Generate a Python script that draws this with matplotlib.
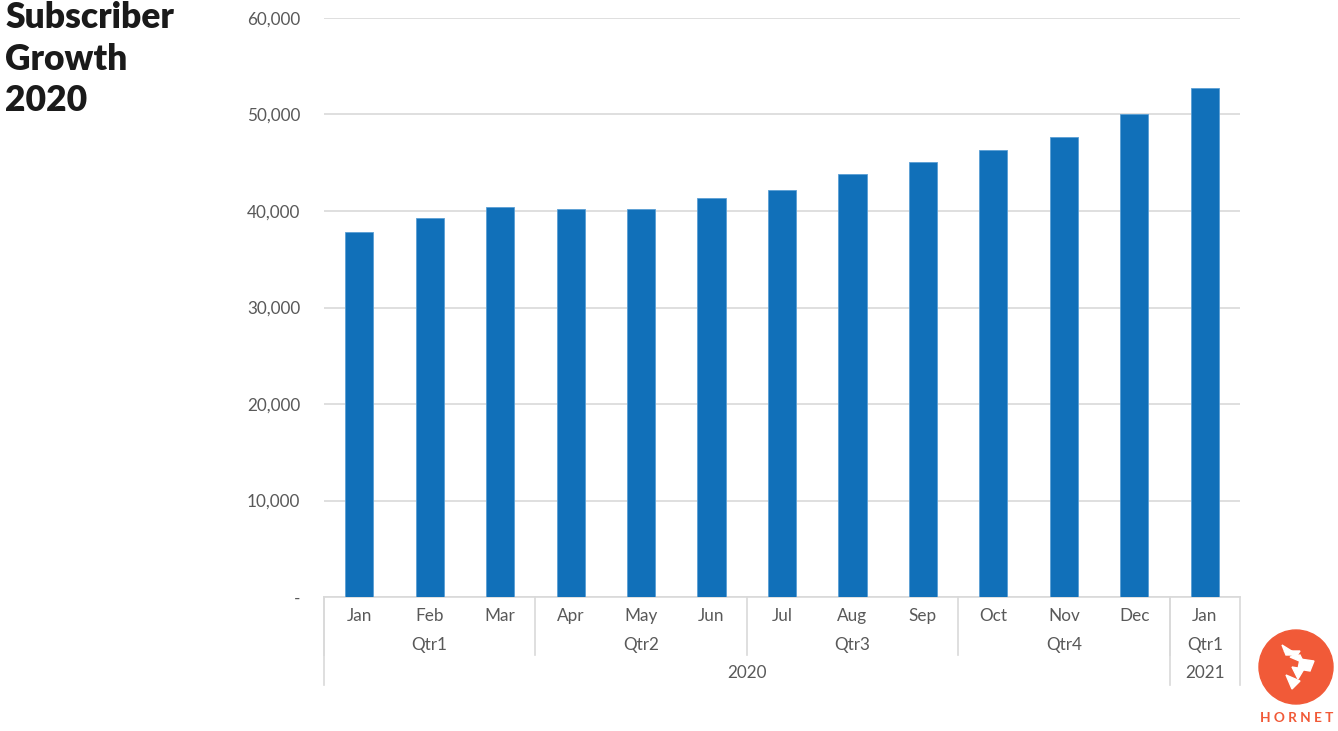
import numpy as np
import matplotlib.pyplot as plt
from matplotlib.patches import Circle, Polygon

# data
months = ['Jan', 'Feb', 'Mar', 'Apr', 'May', 'Jun', 'Jul', 'Aug', 'Sep',
          'Oct', 'Nov', 'Dec', 'Jan']
quarters = ['Qtr1', 'Qtr2', 'Qtr3', 'Qtr4', 'Qtr1']
quarter_sizes = [3, 3, 3, 3, 1]
years = ['2020', '2021']
year_sizes = [12, 1]
subscribers = [37800, 39300, 40400, 40200, 40200, 41300, 42200,
               43800, 45100, 46300, 47700, 50100, 52700]
y_ticks = [0, 10000, 20000, 30000, 40000, 50000, 60000]

W, H = 1338, 731
plt.rcParams['font.family'] = ['Lato', 'DejaVu Sans']
fig = plt.figure(figsize=(W / 100, H / 100), dpi=100)

ax = fig.add_axes([324 / W, (H - 597) / H, 916 / W, 579 / H])
x = np.arange(len(months))
ax.bar(x, subscribers, width=0.4, color='#1170B9', edgecolor='#5A9FD4',
       linewidth=0.6, zorder=3)
ax.set_xlim(-0.5, len(months) - 0.5)
ax.set_ylim(0, 60000)
ax.set_yticks(y_ticks)
ax.set_yticklabels(['-' if v == 0 else f'{v:,}' for v in y_ticks])
ax.tick_params(axis='y', length=0, pad=17, labelsize=12.3, labelcolor='#595959')
ax.tick_params(axis='x', length=0, labelbottom=False)
ax.grid(axis='y', color='#D9D9D9', linewidth=1.2, zorder=0)
for s in ['top', 'right', 'left']:
    ax.spines[s].set_visible(False)
ax.spines['bottom'].set_color('#D9D9D9')
ax.spines['bottom'].set_linewidth(1.2)

# hierarchical category axis
tr = ax.get_xaxis_transform()
def py(p):
    return (597 - p) / 579

lab_kw = dict(transform=tr, ha='center', va='center', fontsize=12.3,
              color='#595959', clip_on=False)
line_kw = dict(transform=tr, color='#D9D9D9', linewidth=1.2, clip_on=False)

for i, m in enumerate(months):
    ax.text(i, py(616), m, **lab_kw)

pos = -0.5
for q, n in zip(quarters, quarter_sizes):
    ax.text(pos + n / 2, py(645), q, **lab_kw)
    ax.plot([pos, pos], [0, py(655)], **line_kw)
    pos += n

pos = -0.5
for yr, n in zip(years, year_sizes):
    ax.text(pos + n / 2, py(673), yr, **lab_kw)
    ax.plot([pos, pos], [0, py(685)], **line_kw)
    pos += n
ax.plot([pos, pos], [0, py(685)], **line_kw)

# title
fig.text(5 / W, 1 - 1 / H, 'Subscriber\nGrowth\n2020', ha='left', va='top',
         fontsize=25.5, fontweight='heavy', color='#1A1A1A', linespacing=1.32)

# logo
lax = fig.add_axes([1250 / W, (H - 713) / H, 92 / W, 92 / H])
lax.set_xlim(-46, 46)
lax.set_ylim(-46, 46)
lax.set_aspect('equal')
lax.axis('off')
orange = '#F15A38'
lax.add_patch(Circle((0, 0), 37, color=orange))
shapes = [
    [(-14, 22), (2, 12), (-10, 12)],
    [(-12, 16), (4, 16), (0, 10)],
    [(-6, 10), (8, 4), (4, 12)],
    [(4, 8), (18, 6), (14, -4), (2, -2)],
    [(-4, 0), (8, -2), (2, -12)],
    [(-10, -8), (4, -14), (-4, -22)],
]
for s in shapes:
    lax.add_patch(Polygon(s, closed=True, facecolor='white', edgecolor='white'))
fig.text(1297 / W, 1 - 718 / H, 'H O R N E T', ha='center', va='center',
         fontsize=9.8, fontweight='bold', color=orange)

fig.savefig('out.png', dpi=100)
